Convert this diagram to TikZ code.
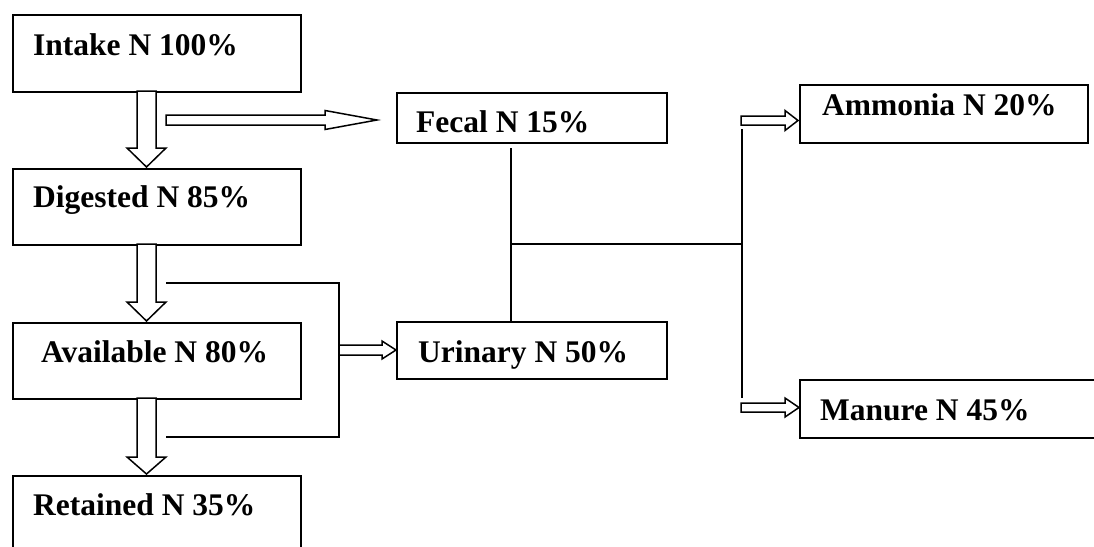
\documentclass[tikz,border=0pt]{standalone}
\usepackage{fontspec}
\setmainfont{Liberation Serif}
\usetikzlibrary{calc}
\tikzset{
  box/.style={draw, line width=1.6pt, rectangle, inner sep=0pt, anchor=north west},
  lab/.style={anchor=base west, inner sep=0pt, font=\fontsize{31.5}{36}\selectfont\bfseries},
  blk/.style={draw, line width=1.5pt, fill=white, line join=miter},
  conn/.style={draw, line width=1.1pt},
}
\newcommand\dblock[4]{\draw[blk] let \p1=(#1),\p2=(#2) in
  (\x1-#3,\y1) -- (\x1-#3,\y2+#4) -- (\x1-19.5pt,\y2+#4) -- (\x2,\y2) --
  (\x1+19.5pt,\y2+#4) -- (\x1+#3,\y2+#4) -- (\x1+#3,\y1) -- cycle;}
\newcommand\rblock[5]{\draw[blk] let \p1=(#1),\p2=(#2) in
  (\x1,\y1+#3) -- (\x2-#5,\y1+#3) -- (\x2-#5,\y1+#4) -- (\x2,\y1) --
  (\x2-#5,\y1-#4) -- (\x2-#5,\y1-#3) -- (\x1,\y1-#3) -- cycle;}
\begin{document}
\begin{tikzpicture}[x=1pt,y=-1pt]
\useasboundingbox (0,0) rectangle (1094,546);
\begin{scope}
\clip (0,0) rectangle (1094,546);
% boxes
\node[box, minimum width=288pt, minimum height=77pt] (intake) at (12,14) {};
\node[box, minimum width=288pt, minimum height=76pt] (digested) at (12,168) {};
\node[box, minimum width=288pt, minimum height=76pt] (available) at (12,322) {};
\node[box, minimum width=288pt, minimum height=90pt] (retained) at (12,475) {};
\node[box, minimum width=270pt, minimum height=50pt] (fecal) at (396,92) {};
\node[box, minimum width=270pt, minimum height=57pt] (urinary) at (396,321) {};
\node[box, minimum width=288pt, minimum height=58pt] (ammonia) at (799,84) {};
\node[box, minimum width=310pt, minimum height=58pt] (manure) at (799,379) {};
\end{scope}
% labels
\node[lab] (intaket) at (33,55) {Intake N 100\%};
\node[lab] (digestedt) at (33,207) {Digested N 85\%};
\node[lab] (availablet) at (41,362) {Available N 80\%};
\node[lab] (retainedt) at (33,515) {Retained N 35\%};
\node[lab] (fecalt) at (416,132) {Fecal N 15\%};
\node[lab] (urinaryt) at (418,362) {Urinary N 50\%};
\node[lab] (ammoniat) at (822,115) {Ammonia N 20\%};
\node[lab] (manuret) at (820,420) {Manure N 45\%};
% coordinates for block arrows
\coordinate (d1s) at (146.5,91);
\coordinate (d1t) at (146.5,167);
\coordinate (d2s) at (146.5,244);
\coordinate (d2t) at (146.5,321);
\coordinate (d3s) at (146.5,398);
\coordinate (d3t) at (146.5,474);
\coordinate (fs) at (166,120);
\coordinate (ft) at (377,120);
\coordinate (us) at (339,350);
\coordinate (ut) at (396,350);
\coordinate (as) at (741,120.5);
\coordinate (at) at (798,120.5);
\coordinate (ms) at (741,407.5);
\coordinate (mt) at (799,407.5);
% connector lines
\coordinate (l1) at (166,283);
\coordinate (l2) at (339,283);
\coordinate (l3) at (339,437);
\coordinate (l4) at (166,437);
\draw[conn] (l1) -- (l2) -- (l3) -- (l4);
\coordinate (fb) at (511,148);
\coordinate (j1) at (511,244);
\coordinate (j2) at (742,244);
\coordinate (vt) at (742,129);
\coordinate (vb) at (742,398);
\draw[conn] (fb) -- (fb |- urinary.north);
\draw[conn] (j1) -- (j2);
\draw[conn] (vt) -- (vb);
% block arrows
\dblock{d1s}{d1t}{9.5pt}{19pt}
\dblock{d2s}{d2t}{9.5pt}{19pt}
\dblock{d3s}{d3t}{9.5pt}{17pt}
\rblock{fs}{ft}{5pt}{9.5pt}{52pt}
\rblock{us}{ut}{5pt}{9pt}{14pt}
\rblock{as}{at}{4.5pt}{10pt}{13pt}
\rblock{ms}{mt}{4.5pt}{9.5pt}{14pt}
\end{tikzpicture}
\end{document}
